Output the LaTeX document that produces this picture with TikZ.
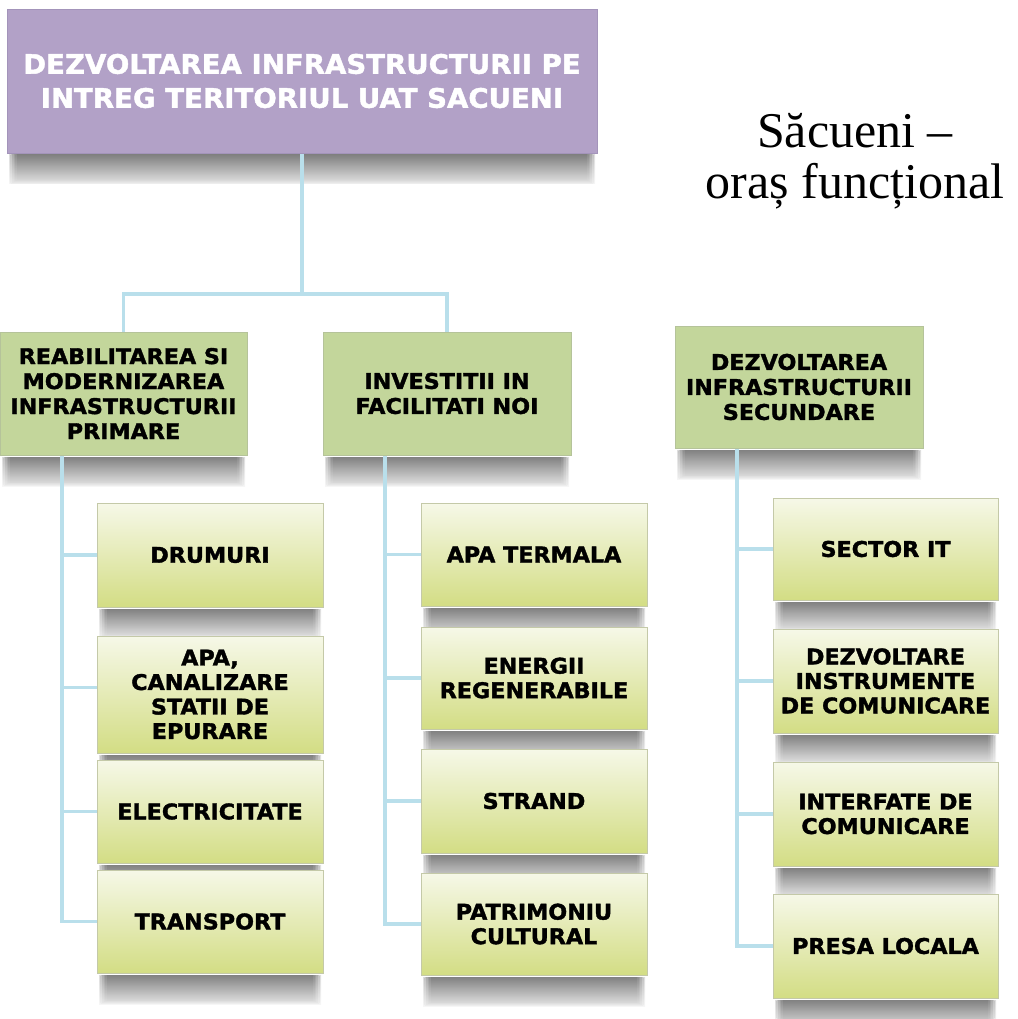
\documentclass[tikz,border=0pt]{standalone}
\usepackage{fontspec}
\newfontfamily\boxfont[FakeStretch=1.03, BoldFeatures={FakeBold=1.6}]{DejaVu Sans}
\newfontfamily\titlefont{Liberation Serif}
\usetikzlibrary{calc,backgrounds}
\definecolor{topfill}{HTML}{B2A1C7}
\definecolor{topdraw}{HTML}{A394BA}
\definecolor{midfill}{HTML}{C3D69B}
\definecolor{middraw}{HTML}{B5C39A}
\definecolor{leaftop}{HTML}{F6F8E8}
\definecolor{leafbot}{HTML}{D3DD84}
\definecolor{leafdraw}{HTML}{C4C9A8}
\definecolor{conncol}{HTML}{B9DFEB}
\newcommand\refl[1]{%
  \foreach \i in {0,...,5}{%
    \shade[top color=black!66, bottom color=black!18, opacity=0.2]
      ($(#1.south west)+(2+1.6*\i,2)$) rectangle ($(#1.south east)+(-2-1.6*\i,31-0.8*\i)$);}}
\begin{document}
\begin{tikzpicture}[x=1pt,y=-1pt,
  box/.style={draw, line width=0.7pt, inner sep=0pt, outer sep=0pt, align=center, anchor=north west},
  topbox/.style={box, fill=topfill, draw=topdraw, text=white,
    font=\boxfont\bfseries\fontsize{26.8}{34}\selectfont},
  midbox/.style={box, fill=midfill, draw=middraw,
    font=\boxfont\bfseries\fontsize{21.6}{25}\selectfont},
  leafbox/.style={box, top color=leaftop, bottom color=leafbot, draw=leafdraw,
    font=\boxfont\bfseries\fontsize{21.6}{24.5}\selectfont},
  conn/.style={draw=conncol, line width=3.8pt}]
\useasboundingbox (0,0) rectangle (1017,1019);

% boxes
\node[topbox, minimum width=590, minimum height=144] (top) at (7,9)
  {DEZVOLTAREA INFRASTRUCTURII PE\\INTREG TERITORIUL UAT SACUENI};

\node[midbox, minimum width=247, minimum height=123] (A) at (0,332)
  {REABILITAREA SI\\MODERNIZAREA\\INFRASTRUCTURII\\PRIMARE};
\node[midbox, minimum width=248, minimum height=123] (B) at (323,332)
  {INVESTITII IN\\FACILITATI NOI};
\node[midbox, minimum width=248, minimum height=122] (C) at (675,326)
  {DEZVOLTAREA\\INFRASTRUCTURII\\SECUNDARE};

\node[leafbox, minimum width=226, minimum height=104] (a1) at (97,503) {DRUMURI};
\node[leafbox, minimum width=226, minimum height=117] (a2) at (97,636) {APA,\\CANALIZARE\\STATII DE\\EPURARE};
\node[leafbox, minimum width=226, minimum height=103] (a3) at (97,760) {ELECTRICITATE};
\node[leafbox, minimum width=226, minimum height=103] (a4) at (97,870) {TRANSPORT};

\node[leafbox, minimum width=226, minimum height=103] (b1) at (421,503) {APA TERMALA};
\node[leafbox, minimum width=226, minimum height=102] (b2) at (421,627) {ENERGII\\REGENERABILE};
\node[leafbox, minimum width=226, minimum height=104] (b3) at (421,749) {STRAND};
\node[leafbox, minimum width=226, minimum height=102] (b4) at (421,873) {PATRIMONIU\\CULTURAL};

\node[leafbox, minimum width=225, minimum height=102] (c1) at (773,498) {SECTOR IT};
\node[leafbox, minimum width=225, minimum height=104] (c2) at (773,629) {DEZVOLTARE\\INSTRUMENTE\\DE COMUNICARE};
\node[leafbox, minimum width=225, minimum height=104] (c3) at (773,762) {INTERFATE DE\\COMUNICARE};
\node[leafbox, minimum width=225, minimum height=104] (c4) at (773,894) {PRESA LOCALA};

% title
\node[font=\titlefont\fontsize{50}{51}\selectfont, align=center, inner sep=0pt] (title) at (855,161)
  {Săcueni –\\oraș funcțional};

\begin{scope}[on background layer]
  \foreach \n in {top,A,B,C,a1,a2,a3,a4,b1,b2,b3,b4,c1,c2,c3,c4}{\refl{\n}}
  % connectors
  \coordinate (j) at (302,294);
  \draw[conn] (top.south) -- (j);
  \draw[conn] (A.north) |- (j) -| (B.north);
  \coordinate (a0) at ($(A.south west)+(62,0)$);
  \coordinate (b0) at ($(B.south west)+(62,0)$);
  \coordinate (c0) at ($(C.south west)+(62,0)$);
  \draw[conn] (a0) |- (a1.west);
  \draw[conn] (a0) |- ($(a2.west)+(0,-7)$);
  \draw[conn] (a0) |- (a3.west);
  \draw[conn] (a0) |- (a4.west);
  \draw[conn] (b0) |- (b1.west);
  \draw[conn] (b0) |- (b2.west);
  \draw[conn] (b0) |- (b3.west);
  \draw[conn] (b0) |- (b4.west);
  \draw[conn] (c0) |- (c1.west);
  \draw[conn] (c0) |- (c2.west);
  \draw[conn] (c0) |- (c3.west);
  \draw[conn] (c0) |- (c4.west);
\end{scope}
\end{tikzpicture}
\end{document}
